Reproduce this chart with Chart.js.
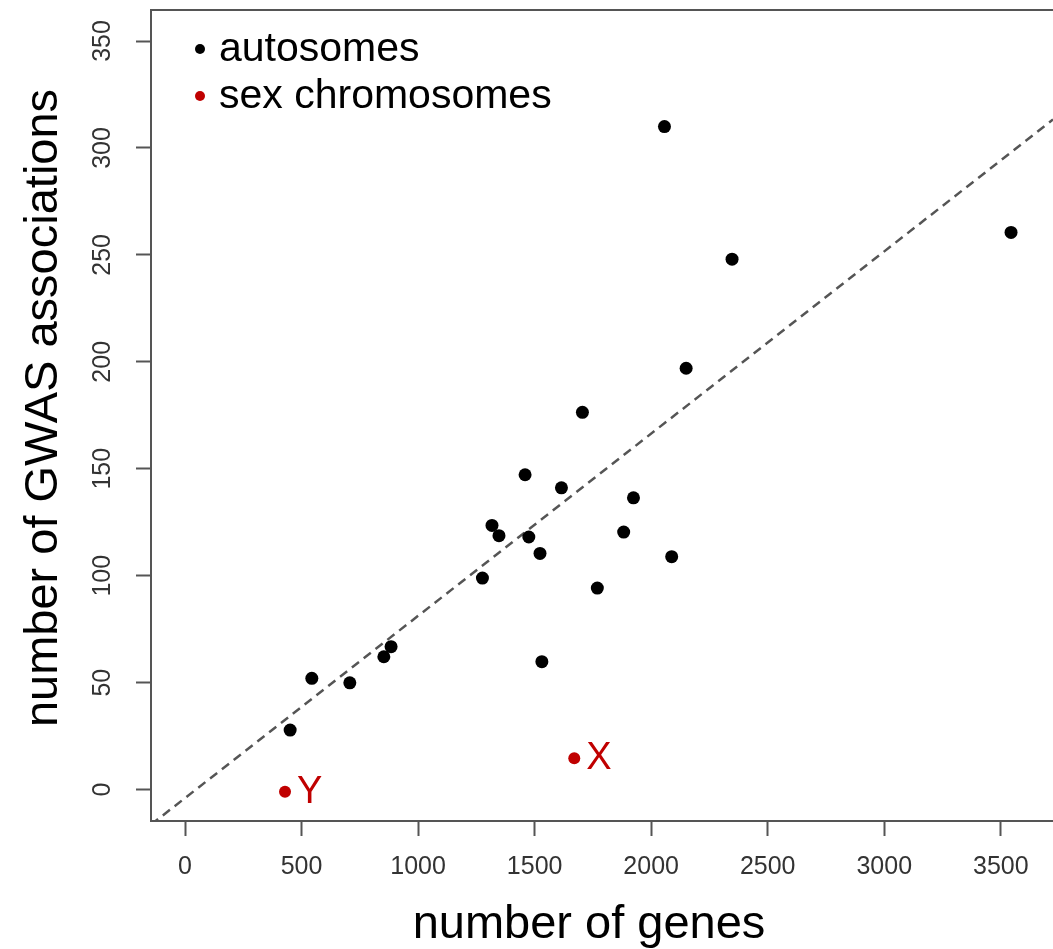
<!DOCTYPE html>
<html>
<head>
<meta charset="utf-8">
<script src="https://cdn.jsdelivr.net/npm/chart.js@4/dist/chart.umd.min.js"></script>
<style>
    html, body { margin: 0; padding: 0; background: #fff; overflow: hidden; }
    #wrap { width: 1053px; height: 949px; }
</style>
</head>
<body>
<div id="wrap"><canvas id="gwasChart" width="1053" height="949"></canvas></div>
<script>
// values
const autoGenes = [2057, 3544, 2347, 2150, 1705, 1459, 1615, 1924, 1317, 1347, 1475, 1882, 1523, 2088, 1276, 1769, 1531, 884, 853, 544, 707, 451];
const autoGwas  = [310, 260.5, 248, 197, 176.4, 147.2, 141.1, 136.4, 123.5, 118.7, 118.1, 120.4, 110.4, 108.9, 98.9, 94.2, 59.8, 66.8, 62.1, 52, 49.9, 27.8];

const sexLabels = ['X', 'Y'];
const sexGenes  = [1670, 429];
const sexGwas   = [14.6, -1];

// ends of the dashed fit line
const fitGenes = [-146, 3724];
const fitGwas  = [-16.4, 313.3];

const xTicks = [0, 500, 1000, 1500, 2000, 2500, 3000, 3500];
const yTicks = [0, 50, 100, 150, 200, 250, 300, 350];

const seriesNames = ['autosomes', 'sex chromosomes'];
const xTitle = 'number of genes';
const yTitle = 'number of GWAS associations';

const RED = '#c00000';
const AXIS = '#555555';
const FONT = 'Arial, "Liberation Sans", sans-serif';

document.addEventListener('DOMContentLoaded', function() {
    const ctx = document.getElementById('gwasChart');

    const toPoints = (xs, ys) => xs.map((x, i) => ({ x: x, y: ys[i] }));

    // keep the plot box fixed: no extra room for end labels
    function fixScale(scale, size) {
        if (scale.isHorizontal()) {
            scale.height = size;
        } else {
            scale.width = size;
        }
        scale.paddingTop = 0;
        scale.paddingBottom = 0;
        scale.paddingLeft = 0;
        scale.paddingRight = 0;
    }

    // box top, titles, legend and X/Y labels
    const decorPlugin = {
        id: 'decor',
        afterDatasetsDraw(chart) {
            const c = chart.ctx;
            const area = chart.chartArea;
            c.save();

            // top edge of the box
            c.strokeStyle = AXIS;
            c.lineWidth = 2;
            c.beginPath();
            c.moveTo(area.left - 1, area.top);
            c.lineTo(area.right, area.top);
            c.stroke();

            // labels next to the sex chromosome points
            const sexMeta = chart.getDatasetMeta(1);
            c.fillStyle = RED;
            c.font = '38px ' + FONT;
            c.textAlign = 'left';
            c.textBaseline = 'alphabetic';
            sexMeta.data.forEach((pt, i) => {
                c.fillText(sexLabels[i], pt.x + 12, pt.y + 11);
            });

            // legend
            const legendColors = ['#000', RED];
            const legendY = [61, 108];
            c.font = '41px ' + FONT;
            seriesNames.forEach((name, i) => {
                c.fillStyle = legendColors[i];
                c.beginPath();
                c.arc(200, legendY[i] - 12, 5, 0, Math.PI * 2);
                c.fill();
                c.fillStyle = '#000';
                c.fillText(name, 219, legendY[i]);
            });

            // axis titles
            c.fillStyle = '#000';
            c.font = '47px ' + FONT;
            c.textAlign = 'center';
            c.fillText(xTitle, 589, 938);
            c.translate(57, 408);
            c.rotate(-Math.PI / 2);
            c.fillText(yTitle, 0, 0);
            c.restore();
        }
    };

    new Chart(ctx, {
        type: 'scatter',
        data: {
            datasets: [
                {
                    label: seriesNames[0],
                    data: toPoints(autoGenes, autoGwas),
                    backgroundColor: '#000',
                    borderWidth: 0,
                    pointRadius: 6.5,
                    order: 1
                },
                {
                    label: seriesNames[1],
                    data: toPoints(sexGenes, sexGwas),
                    backgroundColor: RED,
                    borderWidth: 0,
                    pointRadius: 6,
                    order: 0
                },
                {
                    label: 'fit',
                    data: toPoints(fitGenes, fitGwas),
                    showLine: true,
                    borderColor: '#555',
                    borderWidth: 2.5,
                    borderDash: [9, 6],
                    pointRadius: 0,
                    fill: false,
                    order: 2
                }
            ]
        },
        options: {
            responsive: false,
            animation: false,
            layout: { autoPadding: false, padding: { top: 10, right: 0, bottom: 0, left: 0 } },
            plugins: {
                legend: { display: false },
                tooltip: { enabled: false }
            },
            scales: {
                x: {
                    type: 'linear',
                    min: -146,
                    max: 3724,
                    afterBuildTicks: scale => { scale.ticks = xTicks.map(v => ({ value: v })); },
                    afterFit: scale => fixScale(scale, 128),
                    grid: {
                        drawOnChartArea: false,
                        drawTicks: true,
                        tickLength: 15,
                        tickWidth: 2,
                        tickColor: AXIS
                    },
                    border: { display: true, color: AXIS, width: 2 },
                    ticks: {
                        color: '#333',
                        padding: 16,
                        maxRotation: 0,
                        font: { family: FONT, size: 25 },
                        callback: value => String(value)
                    }
                },
                y: {
                    type: 'linear',
                    min: -14.7,
                    max: 364.5,
                    afterBuildTicks: scale => { scale.ticks = yTicks.map(v => ({ value: v })); },
                    afterFit: scale => fixScale(scale, 151),
                    grid: {
                        drawOnChartArea: false,
                        drawTicks: true,
                        tickLength: 15,
                        tickWidth: 2,
                        tickColor: AXIS
                    },
                    border: { display: true, color: AXIS, width: 2 },
                    ticks: {
                        color: '#333',
                        padding: 12,
                        minRotation: 90,
                        maxRotation: 90,
                        crossAlign: 'center',
                        font: { family: FONT, size: 25 },
                        callback: value => String(value)
                    }
                }
            }
        },
        plugins: [decorPlugin]
    });
});
</script>
</body>
</html>
